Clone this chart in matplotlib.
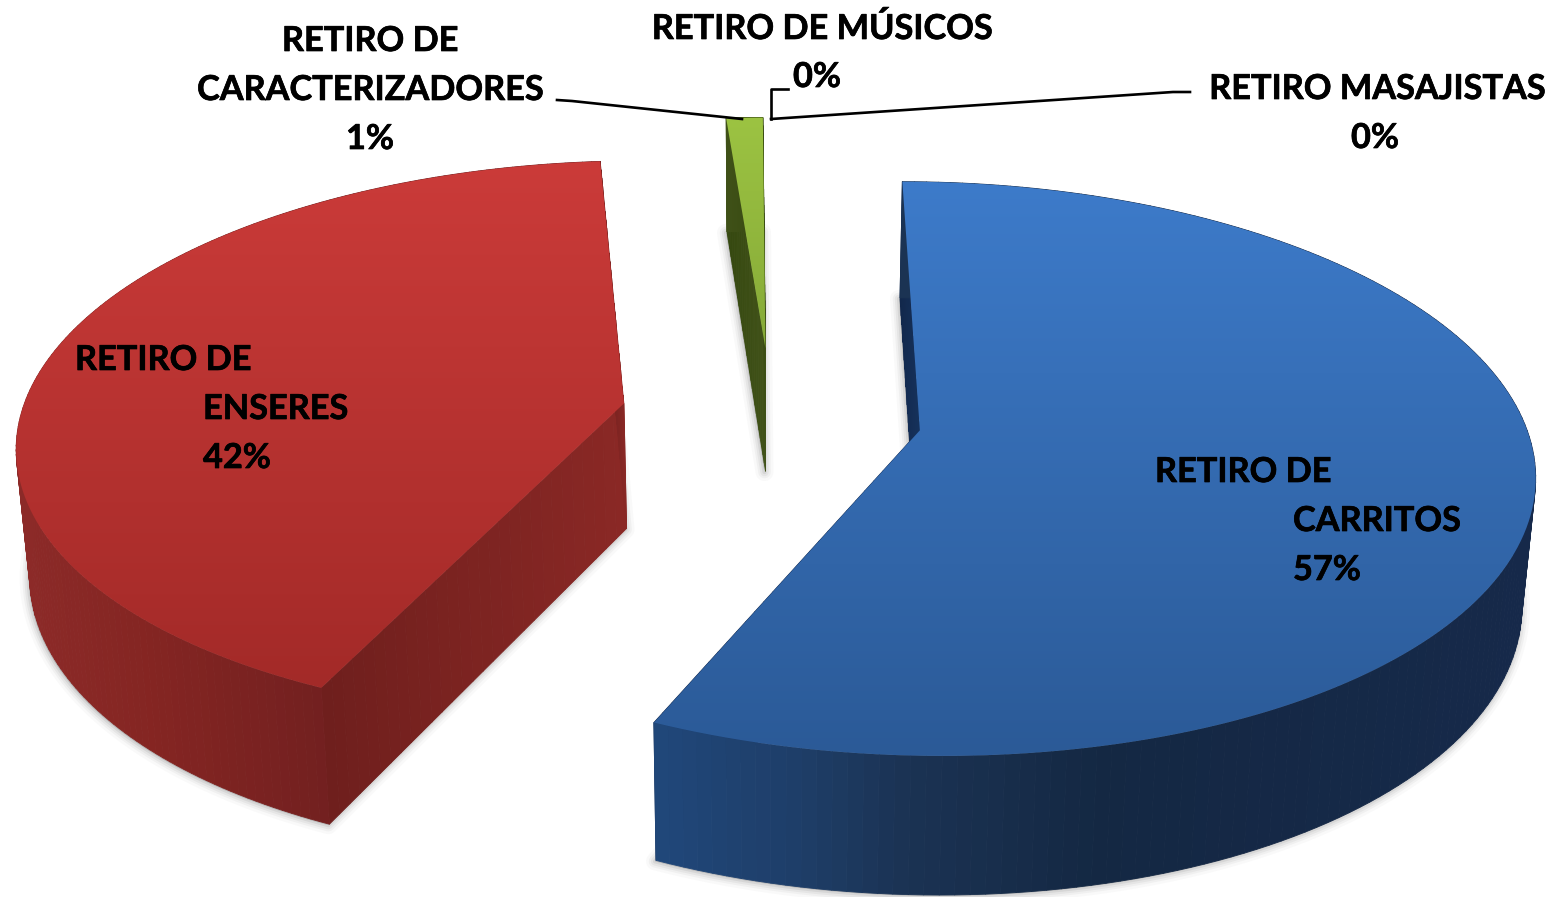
#!/usr/bin/env python3
# -*- coding: utf-8 -*-

import numpy as np
import matplotlib
matplotlib.use("Agg")
import matplotlib.pyplot as plt
import matplotlib.patheffects as pe
from matplotlib.collections import PolyCollection
from matplotlib.colors import to_rgb
from matplotlib.patches import Polygon

plt.rcParams["font.family"] = ["Lato", "DejaVu Sans"]

# Datos
categorias = ["RETIRO DE CARRITOS", "RETIRO DE ENSERES", "RETIRO DE CARACTERIZADORES",
              "RETIRO DE MÚSICOS", "RETIRO MASAJISTAS"]
valores = [56.8, 41.97, 1.13, 0.05, 0.05]

# cara superior (arriba, abajo), pared interior (arriba, abajo)
col_top = [("#3d7bca", "#2b5a97"), ("#cb3b39", "#a32a28"), ("#9cc342", "#86aa38")]
col_wall = [("#16325c", "#12284c"), ("#8a2825", "#6f1f1d"), ("#415219", "#35480f")]
# lateral exterior: color según la x
side_x = [[655, 800, 900, 1100, 1535], [20, 150, 325], [720, 770]]
side_c = [["#20477a", "#1e3e68", "#1b3354", "#142843", "#16294a"],
          ["#8c2a28", "#842522", "#722020"],
          ["#415219", "#35480f"]]

# Proyección del plano de la tarta a píxeles
CX, CY = 771.5, 415.5
A, B, K = 603, 278, 0.133
CY2, SX2, SY2 = 541, 0.982, 1.04
EXPLODE = 0.25
FS = 24.7


def proj(U, V, bottom=False):
    w = 1 + K * V
    x = A * U / w
    y = -B * V / w
    if bottom:
        return CX + SX2 * x, CY2 + SY2 * y
    return CX + x, CY + y


def add_quads(ax, xt, yt, xb, yb, cols):
    quads = []
    for i in range(len(xt) - 1):
        quads.append([(xt[i], yt[i]), (xt[i + 1], yt[i + 1]), (xb[i + 1], yb[i + 1]), (xb[i], yb[i])])
    ax.add_collection(PolyCollection(quads, facecolors=cols, edgecolors=cols, linewidths=0.6, zorder=2))


def colors_between(c0, c1, n):
    a, b = np.array(to_rgb(c0)), np.array(to_rgb(c1))
    return [tuple(a + (b - a) * t) for t in np.linspace(0, 1, n)]


def colors_by_x(xs, stops, hexes):
    rgb = np.array([to_rgb(h) for h in hexes])
    return np.column_stack([np.interp(xs, stops, rgb[:, k]) for k in range(3)])


fig = plt.figure(figsize=(15.52, 8.97), dpi=100)
ax = fig.add_axes([0, 0, 1, 1])

start = 0.0
for i, val in enumerate(valores[:3]):
    span = val / sum(valores) * 2 * np.pi
    th = np.linspace(start, start + span, 160)
    mid = start + span / 2
    eu, ev = EXPLODE * np.sin(mid), EXPLODE * np.cos(mid)
    U = eu + np.sin(th)
    V = ev + np.cos(th)

    xt, yt = proj(U, V)
    xb, yb = proj(U, V, bottom=True)
    ax0t, ay0t = proj(eu, ev)
    ax0b, ay0b = proj(eu, ev, bottom=True)

    # sombra suave del plano inferior
    outline = np.column_stack([np.r_[ax0b, xb], np.r_[ay0b, yb]])
    for lw, al in [(13, 0.03), (9, 0.05), (6, 0.07), (3, 0.10)]:
        ax.add_patch(Polygon(outline + [-1, 1], closed=True, fc="#555555", ec="#555555",
                             lw=lw, alpha=al, joinstyle="round", zorder=1))

    # paredes interiores
    for j in (0, -1):
        add_quads(ax, np.linspace(ax0t, xt[j], 30), np.linspace(ay0t, yt[j], 30),
                  np.linspace(ax0b, xb[j], 30), np.linspace(ay0b, yb[j], 30),
                  colors_between(col_wall[i][0], col_wall[i][1], 29))

    # lateral exterior
    add_quads(ax, xt, yt, xb, yb, colors_by_x((xt[:-1] + xt[1:]) / 2, side_x[i], side_c[i]))

    # cara superior con degradado vertical
    top_xy = np.column_stack([np.r_[ax0t, xt], np.r_[ay0t, yt]])
    clip = Polygon(top_xy, closed=True, transform=ax.transData, fc="none", ec="none")
    ax.add_patch(clip)
    c0, c1 = np.array(to_rgb(col_top[i][0])), np.array(to_rgb(col_top[i][1]))
    g = np.linspace(0, 1, 256)[:, None, None]
    img = ax.imshow(c0 + (c1 - c0) * g, extent=(0, 1552, top_xy[:, 1].max(), top_xy[:, 1].min()),
                    aspect="auto", zorder=3, interpolation="bilinear")
    img.set_clip_path(clip)

    start += span

ax.set_xlim(0, 1552)
ax.set_ylim(897, 0)
ax.axis("off")

# Líneas guía
ax.plot([557, 572, 742], [100, 101, 119], color="black", lw=1.9, zorder=4)
ax.plot([788, 770.5, 770.5], [89, 89, 119], color="black", lw=1.9, zorder=4)
ax.plot([771, 1173, 1190], [119, 92, 92], color="black", lw=1.9, zorder=4)


def etiqueta(x, y, s, ha="center"):
    t = ax.text(x, y, s, ha=ha, va="baseline", fontsize=FS, fontweight="bold", color="black", zorder=5)
    t.set_path_effects([pe.withStroke(linewidth=0.5, foreground="black")])


pct = [f"{round(v)}%" for v in valores]

etiqueta(370, 51, "RETIRO DE")
etiqueta(370, 100, "CARACTERIZADORES")
etiqueta(370, 149, pct[2])
etiqueta(822, 39, categorias[3])
etiqueta(817, 87, pct[3])
etiqueta(1377, 99, categorias[4])
etiqueta(1375, 148, pct[4])

etiqueta(75, 370, "RETIRO DE", ha="left")
etiqueta(203, 419, "ENSERES", ha="left")
etiqueta(203, 468, pct[1], ha="left")

etiqueta(1155, 482, "RETIRO DE", ha="left")
etiqueta(1293, 531, "CARRITOS", ha="left")
etiqueta(1293, 580, pct[0], ha="left")

fig.savefig("out.png", dpi=100)
